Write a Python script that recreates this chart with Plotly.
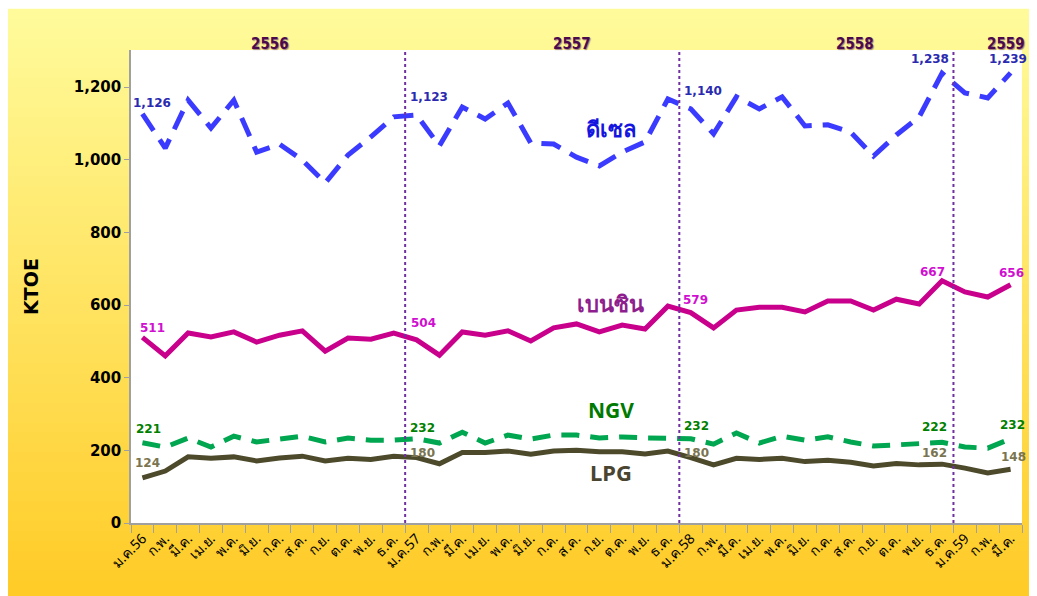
import plotly.graph_objects as go

# months Jan 2556 .. Mar 2559
month_labels = ["ม.ค.56", "ก.พ.", "มี.ค.", "เม.ย.", "พ.ค.", "มิ.ย.", "ก.ค.", "ส.ค.", "ก.ย.", "ต.ค.", "พ.ย.", "ธ.ค.",
                "ม.ค.57", "ก.พ.", "มี.ค.", "เม.ย.", "พ.ค.", "มิ.ย.", "ก.ค.", "ส.ค.", "ก.ย.", "ต.ค.", "พ.ย.", "ธ.ค.",
                "ม.ค.58", "ก.พ.", "มี.ค.", "เม.ย.", "พ.ค.", "มิ.ย.", "ก.ค.", "ส.ค.", "ก.ย.", "ต.ค.", "พ.ย.", "ธ.ค.",
                "ม.ค.59", "ก.พ.", "มี.ค."]

diesel = [1126, 1032, 1164, 1087, 1164, 1021, 1043, 999, 936, 1013, 1063, 1118,
          1123, 1038, 1145, 1112, 1156, 1046, 1043, 1007, 983, 1021, 1049, 1167,
          1140, 1071, 1173, 1140, 1173, 1093, 1096, 1076, 1010, 1068, 1118, 1238,
          1184, 1170, 1239]
benzin = [511, 460, 523, 512, 526, 498, 517, 529, 473, 509, 506, 523,
          504, 462, 526, 517, 529, 501, 537, 548, 526, 545, 534, 597,
          579, 537, 586, 594, 594, 581, 611, 611, 586, 616, 603, 667,
          636, 622, 656]
ngv = [221, 209, 234, 209, 239, 223, 231, 239, 223, 234, 228, 228,
       232, 220, 250, 220, 242, 231, 242, 242, 234, 237, 234, 234,
       232, 217, 248, 220, 239, 228, 237, 223, 212, 215, 217, 222,
       209, 206, 232]
lpg = [124, 143, 182, 178, 182, 171, 179, 184, 171, 178, 175, 184,
       180, 163, 194, 194, 198, 189, 198, 200, 196, 196, 190, 198,
       180, 160, 178, 175, 178, 169, 173, 167, 157, 164, 160, 162,
       151, 138, 148]

years = ["2556", "2557", "2558", "2559"]
year_label_x = [5.6, 18.8, 31.2, 37.8]
year_breaks = [11.5, 23.5, 35.5]
labelled_points = [0, 12, 24, 35, 38]

x = list(range(len(month_labels)))

fig = go.Figure()

# gradient background made from thin bands
top_c = (255, 251, 155)
bot_c = (255, 203, 38)
nb = 60
for k in range(nb):
    t = k / (nb - 1)
    c = tuple(int(round(top_c[j] + (bot_c[j] - top_c[j]) * t)) for j in range(3))
    fig.add_shape(type="rect", xref="paper", yref="paper", layer="below",
                  x0=-0.15, x1=1.03,
                  y0=1.085 - (k + 1) * 1.25 / nb, y1=1.085 - k * 1.25 / nb + 0.002,
                  fillcolor="rgb(%d,%d,%d)" % c, line_width=0)
fig.add_shape(type="rect", xref="x domain", yref="y domain", layer="below",
              x0=0, x1=1, y0=0, y1=1, fillcolor="white", line_width=0)

for b in year_breaks:
    fig.add_shape(type="line", xref="x", yref="y domain", x0=b, x1=b, y0=0, y1=1,
                  line=dict(color="#7030A0", width=2, dash="dot"))

series = [
    ("ดีเซล", diesel, "#3B3BFF", "20px,11px", "#2A2AB0",
     [(10, 11), (12, 18), (12, 18), (-12, 14), (-3, 14)]),
    ("เบนซิน", benzin, "#C8008C", "solid", "#D010D0",
     [(10, 9), (7, 17), (5, 13), (-10, 9), (1, 12)]),
    ("NGV", ngv, "#00A650", "18px,11px", "#008000",
     [(6, 14), (6, 11), (6, 13), (-8, 15), (2, 14)]),
    ("LPG", lpg, "#4D4A2C", "solid", "#7A7450",
     [(5, 15), (6, 5), (6, 5), (-8, 11), (3, 12)]),
]

for name, vals, color, dash, lab_color, offs in series:
    fig.add_trace(go.Scatter(x=x, y=vals, mode="lines", name=name,
                             line=dict(color=color, width=5, dash=dash)))
    for i, (dx, dy) in zip(labelled_points, offs):
        fig.add_annotation(x=i, y=vals[i], text="{:,}".format(vals[i]), showarrow=False,
                           xshift=dx, yshift=dy,
                           font=dict(family="DejaVu Sans", size=12, color=lab_color, weight="bold"))

# series names written on the chart
names = [("ดีเซล", 20.5, 1087, "#1515E0", 22),
         ("เบนซิน", 20.5, 605, "#8E1E8E", 22),
         ("NGV", 20.5, 311, "#007A00", 21),
         ("LPG", 20.5, 140, "#4A4530", 22)]
for txt, nx, ny, col, sz in names:
    fig.add_annotation(x=nx, y=ny, text="<b>%s</b>" % txt, showarrow=False,
                       font=dict(family="Noto Sans, DejaVu Sans", size=sz, color=col))

for yl, yx in zip(years, year_label_x):
    fig.add_annotation(x=yx, y=1.036, xref="x", yref="paper", text="<b>%s</b>" % yl, showarrow=False,
                       font=dict(family="DejaVu Sans Condensed, DejaVu Sans", size=15, color="#4B0A4B",
                                 shadow="1px 1px 1px #a08080"))

fig.update_layout(
    width=1029, height=588,
    margin=dict(l=123, r=15, t=42, b=73),
    paper_bgcolor="white", plot_bgcolor="white",
    showlegend=False,
)
fig.update_xaxes(range=[-0.5, len(x) - 0.5], tickmode="array", tickvals=x, ticktext=month_labels,
                 tickangle=-45, ticks="", showgrid=False, showline=True, linecolor="#A0A0A0", linewidth=1.5,
                 tickfont=dict(family="Noto Sans, DejaVu Sans", size=14, color="black"),
                 minor=dict(tickmode="array", tickvals=[v - 0.5 for v in x] + [len(x) - 0.5],
                            ticks="outside", ticklen=8, tickcolor="#A0A0A0", tickwidth=1))
fig.update_yaxes(range=[0, 1302], tickvals=[0, 200, 400, 600, 800, 1000, 1200], tickformat=",",
                 ticks="outside", ticklen=5, tickcolor="#A0A0A0", showgrid=False, zeroline=False,
                 showline=True, linecolor="#A0A0A0", linewidth=1.5,
                 tickfont=dict(family="DejaVu Sans", size=15, color="black", weight="bold"),
                 title=dict(text="<b>KTOE</b>", standoff=30,
                            font=dict(family="DejaVu Sans", size=19, color="black")))

fig.write_html("out.html")
